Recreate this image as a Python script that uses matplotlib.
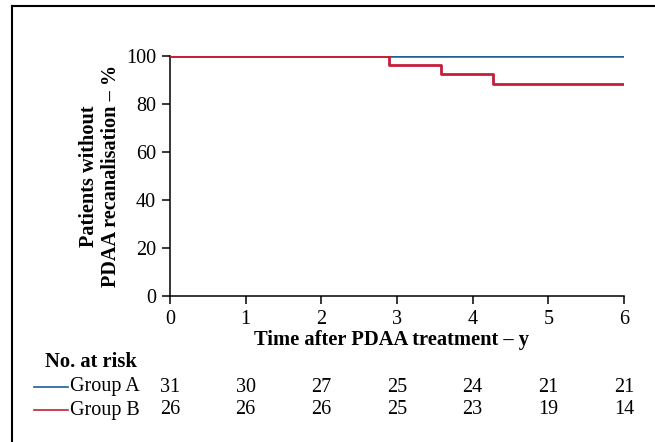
import matplotlib
matplotlib.use("Agg")
import matplotlib.pyplot as plt
from matplotlib.lines import Line2D
from matplotlib.transforms import blended_transform_factory

# Kaplan-Meier steps (time in years, % without recanalisation)
time_a = [0, 6]
surv_a = [100, 100]
time_b = [0, 2.9, 3.58, 4.27, 6]
surv_b = [100, 96.2, 92.3, 88.5, 88.5]

risk_times = [0, 1, 2, 3, 4, 5, 6]
risk_a = [31, 30, 27, 25, 24, 21, 21]
risk_b = [26, 26, 26, 25, 23, 19, 14]
groups = ["Group A", "Group B"]

blue = "#1f5f96"
red = "#c41e3a"

plt.rcParams["font.family"] = ["Liberation Serif", "DejaVu Serif"]
plt.rcParams["font.size"] = 14.5

fig = plt.figure(figsize=(6.55, 4.42), dpi=100)
ax = fig.add_axes([170 / 655, 1 - 296 / 442, 454 / 655, 240 / 442])

ax.step(time_a, surv_a, where="post", color=blue, lw=1.8, zorder=2)
ax.step(time_b, surv_b, where="post", color=red, lw=2.0, zorder=3)

ax.set_xlim(0, 6)
ax.set_ylim(0, 100)
ax.set_xticks(risk_times)
ax.set_yticks([0, 20, 40, 60, 80, 100])
for s in ["top", "right"]:
    ax.spines[s].set_visible(False)
for s in ["left", "bottom"]:
    ax.spines[s].set_linewidth(1.1)
ax.tick_params(direction="out", length=6, width=1.1, pad=4, labelsize=14.5)

ax.set_xlabel("Time after PDAA treatment \u2013 y", fontweight="bold",
              fontsize=14.8)
ax.xaxis.set_label_coords(0.487, -0.14)
ax.text(-0.155, 0.5, "Patients without\nPDAA recanalisation \u2013 %",
        transform=ax.transAxes, rotation=90, ha="center", va="center",
        fontweight="bold", fontsize=14.6, linespacing=1.12)

# number at risk table
tr = blended_transform_factory(ax.transData, fig.transFigure)
fig.text(45 / 655, 1 - 362 / 442, "No. at risk", fontweight="bold",
         ha="left", va="center", fontsize=14.8)
rows = [(risk_a, blue, 387), (risk_b, red, 410)]
for (vals, col, ypx), name in zip(rows, groups):
    yf = 1 - ypx / 442
    fig.add_artist(Line2D([34 / 655, 68 / 655], [yf, yf], color=col, lw=1.2,
                          transform=fig.transFigure))
    fig.text(70 / 655, yf, name, ha="left", va="center")
    for t, v in zip(risk_times, vals):
        ax.text(t, yf, str(v), transform=tr, ha="center", va="center")

# outer frame (partly cut by the image edge)
fl, ft = 12 / 655, 1 - 6 / 442
fig.add_artist(Line2D([fl, 1.01], [ft, ft], color="black", lw=1.5,
                      transform=fig.transFigure))
fig.add_artist(Line2D([fl, fl], [-0.01, ft], color="black", lw=1.5,
                      transform=fig.transFigure))

plt.savefig("out.png", dpi=100)
